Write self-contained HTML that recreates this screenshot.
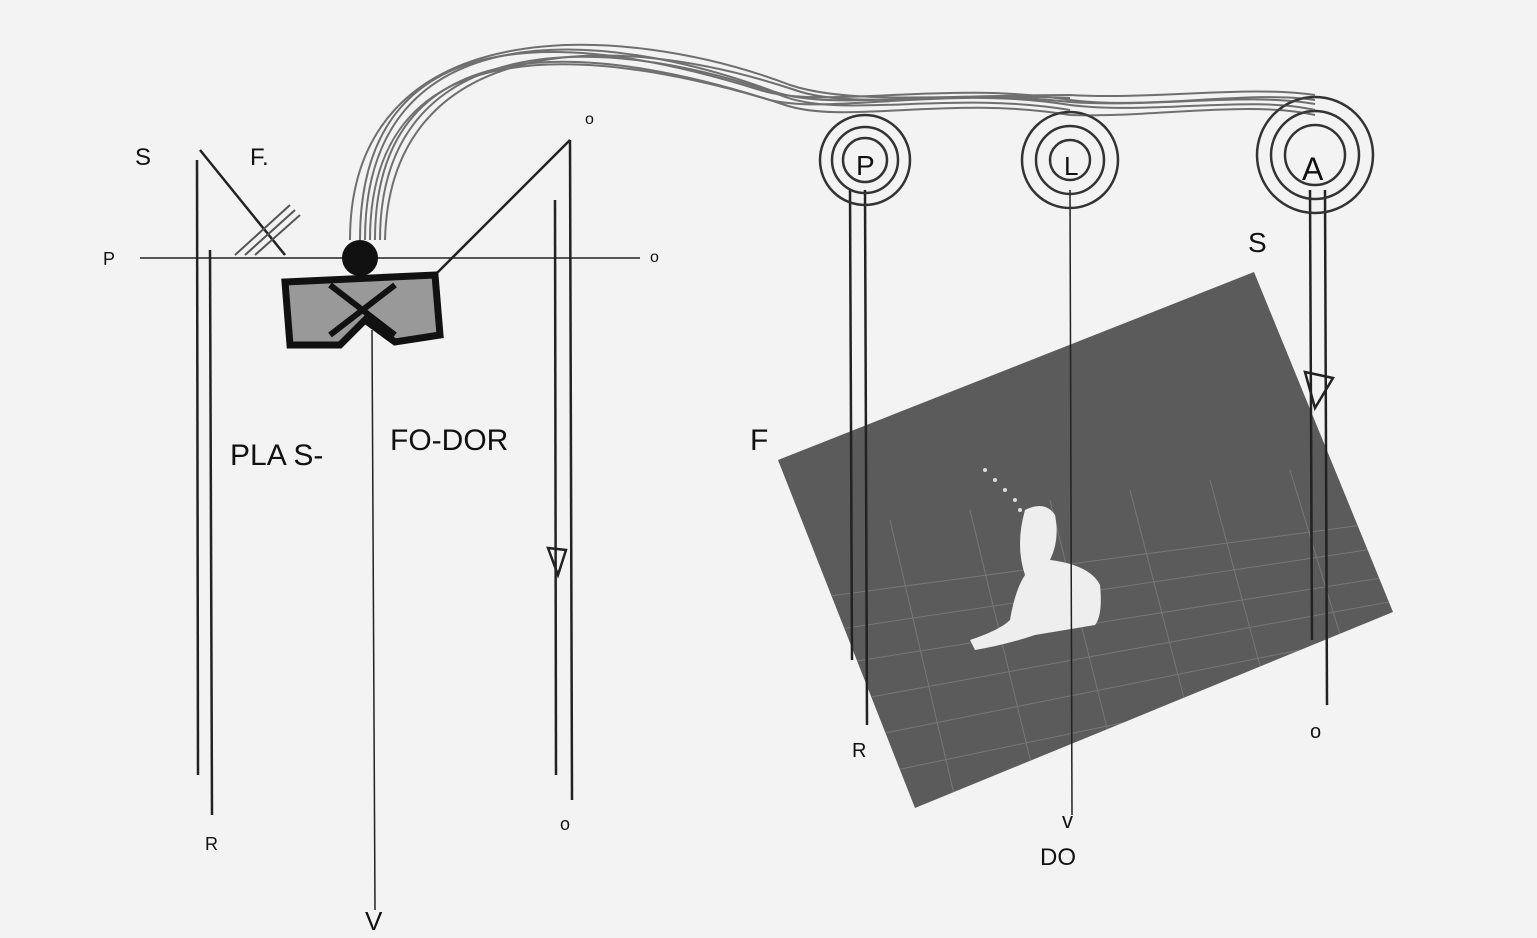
<!DOCTYPE html>
<html><head><style>
html,body{margin:0;padding:0;background:#f3f3f3;}
svg{display:block}
text{font-family:"Liberation Sans",sans-serif;fill:#111;}
</style></head><body>
<svg width="1537" height="938" viewBox="0 0 1537 938" xmlns="http://www.w3.org/2000/svg">
<defs><clipPath id="pc"><polygon points="778,460 1254,272 1393,612 915,808"/></clipPath></defs>
<rect width="1537" height="938" fill="#f3f3f3"/>
<polygon points="778,460 1254,272 1393,612 915,808" fill="#5b5b5b"/>
<g stroke="#777" stroke-width="1" fill="none" clip-path="url(#pc)">
<path d="M800,600 L1400,520 M800,635 L1400,545 M800,670 L1400,575 M800,710 L1400,600 M800,750 L1400,630 M800,790 L1400,665"/>
<path d="M890,520 L960,820 M970,510 L1040,800 M1050,500 L1120,780 M1130,490 L1200,760 M1210,480 L1280,740 M1290,470 L1360,700"/>
</g>
<path d="M1025,510 q20,-10 30,5 q5,25 -5,45 q40,5 50,25 q3,30 -5,40 l-60,10 q-30,10 -60,15 l-5,-10 q30,-10 40,-20 q5,-30 15,-45 q-10,-30 0,-65z" fill="#eee"/>
<g fill="#ddd"><circle cx="985" cy="470" r="2"/><circle cx="995" cy="480" r="2"/><circle cx="1005" cy="490" r="2"/><circle cx="1015" cy="500" r="2"/><circle cx="1020" cy="510" r="2"/></g>
<g stroke="#222" stroke-width="2.5" fill="none">
<line x1="197" y1="160" x2="198" y2="775"/>
<line x1="210" y1="250" x2="212" y2="815"/>
<line x1="555" y1="200" x2="556" y2="775"/>
<line x1="570" y1="140" x2="572" y2="800"/>
<line x1="140" y1="258" x2="640" y2="258" stroke-width="1.5"/>
<line x1="200" y1="150" x2="285" y2="255"/>
<line x1="570" y1="140" x2="430" y2="280"/>
<line x1="372" y1="330" x2="375" y2="910" stroke-width="1.5"/>
<polygon points="548,548 566,550 558,575"/>
</g>
<!-- hatch near F -->
<g stroke="#555" stroke-width="2"><path d="M235,255 L290,205 M245,255 L295,210 M255,255 L300,215"/></g>
<!-- goggles -->
<g stroke="#111" stroke-width="7" fill="#999">
<path d="M285,282 L435,275 L440,335 L395,342 L365,320 L340,345 L290,345 Z"/>
</g>
<path d="M330,285 L395,335 M395,285 L330,335" stroke="#111" stroke-width="6"/>
<circle cx="360" cy="258" r="18" fill="#111"/>
<g stroke="#222" stroke-width="2.5" fill="none">
<line x1="850" y1="190" x2="852" y2="660"/>
<line x1="865" y1="190" x2="867" y2="725"/>
<line x1="1070" y1="190" x2="1072" y2="815" stroke-width="1.5"/>
<line x1="1310" y1="190" x2="1312" y2="640"/>
<line x1="1325" y1="190" x2="1327" y2="705"/>
<polygon points="1305,372 1333,378 1315,408"/>
</g>
<g stroke="#333" stroke-width="2.5" fill="none">
<circle cx="865" cy="160" r="45"/><circle cx="865" cy="160" r="33"/><circle cx="865" cy="160" r="22"/>
<circle cx="1070" cy="160" r="48"/><circle cx="1070" cy="160" r="34"/><circle cx="1070" cy="160" r="20"/>
<circle cx="1315" cy="155" r="58"/><circle cx="1315" cy="155" r="44"/><circle cx="1315" cy="155" r="30"/>
</g>
<g stroke="#444" stroke-width="2" fill="none" opacity="0.75">
<path d="M360,240 C360,0 600,40 760,90 C820,110 950,80 1070,100 C1150,110 1250,90 1315,100"/>
<path d="M370,240 C370,20 600,50 770,100 C830,115 950,85 1070,105 C1150,115 1250,95 1315,110"/>
<path d="M380,240 C380,30 600,30 780,95 C840,120 950,90 1070,110"/>
<path d="M350,240 C350,10 620,20 790,85 C850,105 950,95 1070,95 C1150,100 1250,85 1315,95"/>
<path d="M365,240 C365,5 610,30 775,92 C835,112 950,88 1070,102 C1150,108 1250,92 1315,104"/>
<path d="M375,240 C375,15 605,45 785,105 C845,125 950,95 1070,115 C1150,118 1250,100 1315,115"/>
<path d="M385,240 C390,40 600,25 795,90 C850,110 950,92 1070,98"/>
</g>
<g font-size="24">
<text x="135" y="165">S</text><text x="250" y="165">F.</text>
<text x="103" y="265" font-size="18">P</text><text x="650" y="262" font-size="16">o</text>
<text x="585" y="124" font-size="16">o</text>
<text x="230" y="465" font-size="30">PLA S-</text>
<text x="390" y="450" font-size="30">FO-DOR</text>
<text x="205" y="850" font-size="18">R</text><text x="560" y="830" font-size="18">o</text>
<text x="365" y="930" font-size="26">V</text>
<text x="856" y="175" font-size="28">P</text>
<text x="1064" y="175" font-size="26">L</text>
<text x="1302" y="180" font-size="32">A</text>
<text x="1248" y="252" font-size="28">S</text>
<text x="750" y="450" font-size="30">F</text>
<text x="852" y="757" font-size="20">R</text>
<text x="1310" y="738" font-size="20">o</text>
<text x="1062" y="828" font-size="22">v</text>
<text x="1040" y="865" font-size="24" fill="#777">DO</text>
</g>
</svg>
</body></html>
